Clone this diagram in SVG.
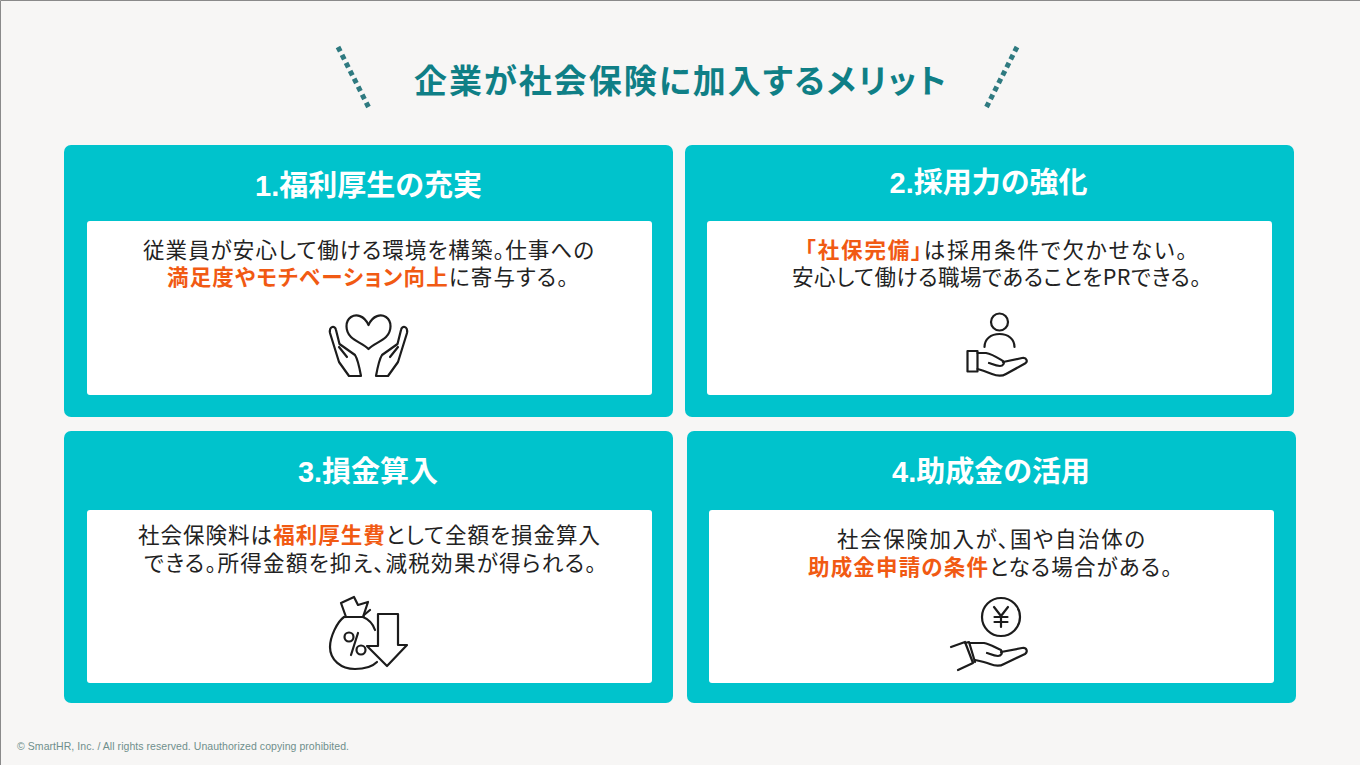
<svg xmlns="http://www.w3.org/2000/svg" width="1360" height="765" viewBox="0 0 1360 765">
<style>
text{font-family:"Noto Sans CJK JP","Noto Sans",sans-serif;font-feature-settings:"palt"}
.card{fill:#00c3cc}
.panel{fill:#fff}
.h{font-size:29px;font-weight:700;fill:#fff;text-anchor:middle;font-family:"Liberation Sans","Noto Sans CJK JP",sans-serif}
.b{font-size:21.5px;fill:#222;text-anchor:middle}
.o{fill:#f15a13;font-weight:700}
.i{fill:none;stroke:#1c1c1c;stroke-width:2.2;stroke-linecap:round;stroke-linejoin:round}
.d{fill:none;stroke:#2f7a80;stroke-width:5;stroke-dasharray:5 3.9}
</style>
<rect x="0" y="0" width="1360" height="765" fill="#f7f6f5"/>
<path d="M0.5 765V0.5H1360" fill="none" stroke="#8a8a8a"/>
<g id="title">
<line class="d" x1="338" y1="47" x2="369" y2="108"/>
<line class="d" x1="1017" y1="47" x2="986" y2="108"/>
<text x="680" y="93" font-size="33" font-weight="700" fill="#0f7f86" text-anchor="middle" textLength="532">企業が社会保険に加入するメリット</text>
</g>
<g id="card1">
<rect class="card" x="64" y="145" width="609" height="272" rx="7"/>
<rect class="panel" x="87" y="221" width="565" height="174" rx="3"/>
<text class="h" x="368.500" y="196">1.福利厚生の充実</text>
<text class="b" x="368.500" y="258" textLength="451">従業員が安心して働ける環境を構築。仕事への</text>
<text class="b" x="367.500" y="285" textLength="401"><tspan class="o">満足度やモチベーション向上</tspan>に寄与する。</text>
<g class="i" transform="translate(310 300)">
<path d="M58.500 25C54 15 46 14 41 17C35 21 35 31 41 37C46 42 54 44 58.500 49C63 44 71 42 76 37C82 31 82 21 76 17C71 14 63 15 58.500 25Z"/>
<path d="M39 76L29 62L20 33C19 26 25 25 26 30L29.500 44L45 55C47 58 49 65 51 76ZM29 47L37 57"/>
<path d="M78 76L88 62L97 33C98 26 92 25 91 30L87.500 44L72 55C70 58 68 65 66 76ZM88 47L80 57"/>
</g>
</g>
<g id="card2">
<rect class="card" x="685" y="145" width="609" height="272" rx="7"/>
<rect class="panel" x="707" y="221" width="565" height="174" rx="3"/>
<text class="h" x="988.500" y="193">2.採用力の強化</text>
<text class="b" x="996" y="258" textLength="382"><tspan class="o">「社保完備」</tspan>は採用条件で欠かせない。</text>
<text class="b" x="996.500" y="285" textLength="409">安心して働ける職場であることをPRできる。</text>
<g class="i" transform="translate(940 300)">
<circle cx="59.500" cy="22" r="8.500"/>
<path d="M44.500 47C44.500 39 51 34 59.500 34C68 34 74.500 39 74.500 47"/>
<rect x="27.500" y="51" width="10" height="20.500"/>
<path d="M37.500 53H46C52 54 58 58 63 61C65 63 63 66 60 66C56 66 52 64 49 63M63 62L82 58C87 57 88 62 85 63.500L66 74C61 77 57 76 52 74C47 72 42 70 37.500 69"/>
</g>
</g>
<g id="card3">
<rect class="card" x="64" y="431" width="609" height="272" rx="7"/>
<rect class="panel" x="87" y="510" width="565" height="173" rx="3"/>
<text class="h" x="368" y="482">3.損金算入</text>
<text class="b" x="369" y="543" textLength="462">社会保険料は<tspan class="o">福利厚生費</tspan>として全額を損金算入</text>
<text class="b" x="370" y="571" textLength="452">できる。所得金額を抑え、減税効果が得られる。</text>
<g class="i" transform="translate(310 590)">
<path d="M36 27L31 13L44 7L48 15L58 12L53 27"/>
<path d="M54 25L60 20"/>
<path d="M34 27C27 32 20 47 20 57C20 70 31 79 45 79C54 79 62 77 67 72M53 27C58 29 63 34 65 40M34 27H54"/>
<path d="M68 24H88V55H97L77 76L57 56H68Z"/>
<circle cx="39" cy="47" r="4.500"/><circle cx="51" cy="60" r="4.500"/><path d="M48 43L41 65"/>
</g>
</g>
<g id="card4">
<rect class="card" x="687" y="431" width="609" height="272" rx="7"/>
<rect class="panel" x="709" y="510" width="565" height="173" rx="3"/>
<text class="h" x="991" y="482">4.助成金の活用</text>
<text class="b" x="991" y="547" textLength="308">社会保険加入が、国や自治体の</text>
<text class="b" x="990" y="575" textLength="364"><tspan class="o">助成金申請の条件</tspan>となる場合がある。</text>
<g class="i" transform="translate(940 590)">
<circle cx="61" cy="27" r="19"/>
<path d="M54 17L61 26L68 17M61 26V37M54.500 27H67.500M54.500 32H67.500"/>
<path d="M11 57L25 52L33 73L18 80M25 53L29 52L35 72"/>
<path d="M30 53H44C50 54 56 58 61 60C63 63 61 66 58 66C54 66 50 64 47 63M61 62L82 58C87 57 88 62 85 64L64 74C59 77 55 76 50 74C45 72 40 71 35 70"/>
</g>
</g>
<text id="copyright" x="17" y="750" font-size="10.500" fill="#6f8f8c" textLength="332" style="font-family:'Liberation Sans',sans-serif">© SmartHR, Inc. / All rights reserved. Unauthorized copying prohibited.</text>
</svg>
